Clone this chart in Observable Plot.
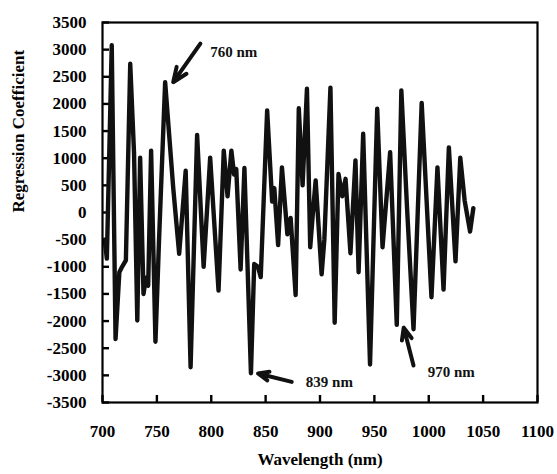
<!DOCTYPE html>
<html>
<head>
<meta charset="utf-8">
<script src="https://cdn.jsdelivr.net/npm/d3@7"></script>
<script src="https://cdn.jsdelivr.net/npm/@observablehq/plot@0.6"></script>
<style>
  html, body { margin: 0; padding: 0; background: #fff; }
</style>
</head>
<body>
<div id="chart"></div>
<script>
// Wavelength (nm) and regression coefficient
const wavelength = [
  702, 704, 708.5, 712, 715.5, 718, 721.5, 725.5, 729, 732, 734.6, 737.7, 740, 742, 744.7, 748.7, 752, 757.6,
  765, 770.5, 776.5, 781, 787, 793, 799, 806.7, 811.5, 815, 818.5, 821, 823, 827, 830.5, 836.5, 839.5, 843, 845.5,
  851.4, 856, 858, 861.5, 865, 870, 873, 877.6, 880.5, 884, 888, 891, 893.5, 896, 901.5, 904, 909.6, 913.5,
  917, 920.5, 923.5, 928, 932.6, 935.5, 939.7, 946, 952.6, 957.5, 964.5, 970.6, 974.8, 980, 986, 993.5,
  1002.5, 1008, 1013.6, 1018.5, 1024.6, 1029, 1033, 1038, 1041
];
const coefficient = [
  -500, -850, 3080, -2330, -1100, -1000, -880, 2740, 1100, -1990, 1010, -1500, -1200, -1350, 1140, -2380, -500, 2400,
  460, -760, 770, -2850, 1430, -1000, 1010, -1440, 1140, 300, 1140, 700, 800, -1050, 820, -2960, -950, -1000, -1190,
  1880, 200, 450, -600, 830, -400, -100, -1520, 1920, 500, 2280, -640, 0, 590, -1140, -500, 2300, -2030,
  710, 300, 620, -750, 960, -1100, 1450, -2800, 1910, -640, 1110, -2070, 2250, 100, -2150, 2020,
  -1560, 830, -1420, 1200, -900, 1010, 220, -350, 80
];

const xTicks = [700, 750, 800, 850, 900, 950, 1000, 1050, 1100];
const yTicks = [-3500, -3000, -2500, -2000, -1500, -1000, -500, 0, 500, 1000, 1500, 2000, 2500, 3000, 3500];

// Annotations
const noteText = ["760 nm", "839 nm", "970 nm"];
const noteX = [799, 887, 999];
const noteY = [2950, -3130, -2950];
const arrowX1 = [790, 874, 986];
const arrowY1 = [3110, -3120, -2820];
const arrowX2 = [765, 843, 977];
const arrowY2 = [2400, -2965, -2120];

const series = wavelength.map((w, i) => ({w, c: coefficient[i]}));
const notes = noteText.map((t, i) => ({t, x: noteX[i], y: noteY[i]}));
const arrows = arrowX1.map((x1, i) => ({x1, y1: arrowY1[i], x2: arrowX2[i], y2: arrowY2[i]}));

const font = "'Liberation Serif', 'Times New Roman', serif";
const W = 557, H = 474, ML = 102, MR = 20, MT = 22, MB = 72;
const xDomain = [700, 1100];
const yDomain = [-3500, 3500];
const tickPx = 7;
const tickLenX = tickPx * (xDomain[1] - xDomain[0]) / (W - ML - MR);
const tickLenY = tickPx * (yDomain[1] - yDomain[0]) / (H - MT - MB);

const chart = Plot.plot({
  width: W,
  height: H,
  marginLeft: ML,
  marginRight: MR,
  marginTop: MT,
  marginBottom: MB,
  style: {fontFamily: font, fontWeight: "bold", fontSize: "17px", background: "#fff", color: "#000"},
  x: {domain: xDomain},
  y: {domain: yDomain},
  marks: [
    // tick labels
    Plot.axisX(xTicks, {tickSize: 0, tickPadding: 22, tickFormat: d => String(d), fontSize: 17, fontWeight: "bold", fontFamily: font, label: null}),
    Plot.axisY(yTicks, {tickSize: 0, tickPadding: 16, tickFormat: d => String(d), fontSize: 17, fontWeight: "bold", fontFamily: font, label: null}),
    // inward tick marks
    Plot.ruleY(yTicks, {y: d => d, x1: () => xDomain[0], x2: () => xDomain[0] + tickLenX, stroke: "#000", strokeWidth: 2.4}),
    Plot.ruleX(xTicks, {x: d => d, y1: () => yDomain[0], y2: () => yDomain[0] + tickLenY, stroke: "#000", strokeWidth: 2.4}),
    Plot.line(series, {x: "w", y: "c", stroke: "#111", strokeWidth: 4.4, strokeLinejoin: "round", strokeLinecap: "round"}),
    Plot.arrow(arrows, {x1: "x1", y1: "y1", x2: "x2", y2: "y2", stroke: "#111", strokeWidth: 4, headLength: 12, headAngle: 45}),
    Plot.text(notes, {x: "x", y: "y", text: "t", textAnchor: "start", fontSize: 15, fontWeight: "bold", fontFamily: font, fill: "#111"}),
    Plot.text(["Wavelength (nm)"], {text: d => d, frameAnchor: "bottom", dy: 62, fontSize: 17, fontWeight: "bold", fontFamily: font}),
    Plot.text(["Regression Coefficient"], {text: d => d, frameAnchor: "left", dx: -84, rotate: -90, fontSize: 17, fontWeight: "bold", fontFamily: font}),
    Plot.frame({stroke: "#000", strokeWidth: 2.2})
  ]
});
document.getElementById("chart").appendChild(chart);
</script>
</body>
</html>
